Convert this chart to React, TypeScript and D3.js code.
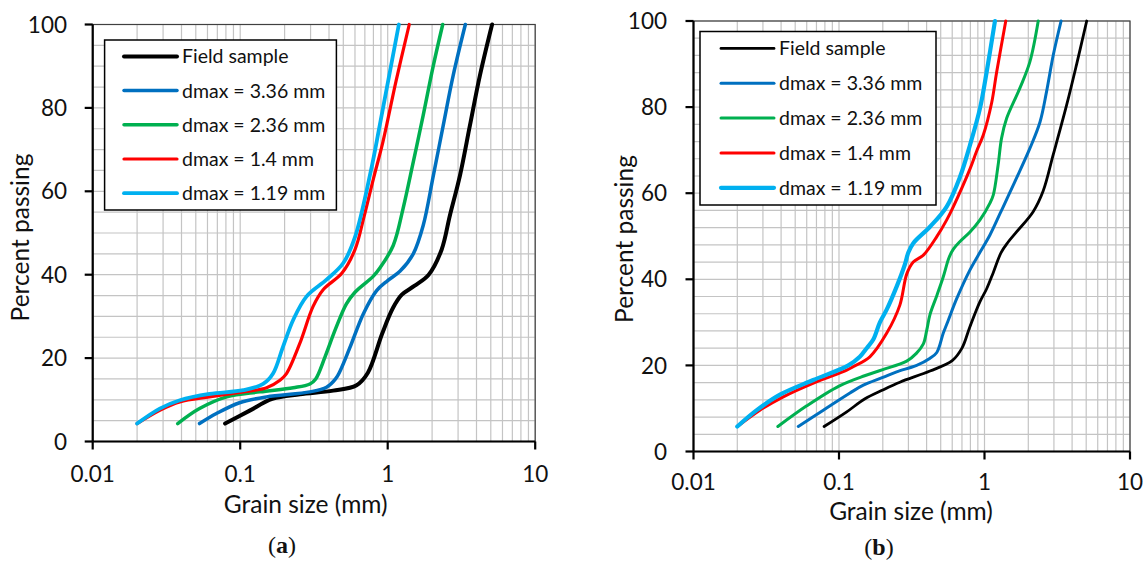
import React from 'react';
import * as d3 from 'd3';

type Pt = [number, number];

// grain size (mm), percent passing -- panel (a)
const fieldA: Pt[] = [[0.079, 4.3], [0.116, 7.4], [0.165, 10.2], [0.254, 11.3], [0.427, 12.2], [0.615, 13.5], [0.734, 16.5], [0.918, 25.9], [1.085, 32], [1.247, 35.2], [1.515, 37.3], [1.896, 40], [2.32, 46], [2.64, 54.2], [3.09, 63.8], [3.61, 75.8], [4.22, 87.8], [5.1, 100]];
const d336A: Pt[] = [[0.053, 4.3], [0.069, 6.7], [0.099, 9.3], [0.151, 10.7], [0.297, 11.9], [0.385, 13], [0.443, 15], [0.474, 16.8], [0.554, 22.5], [0.683, 30.6], [0.841, 36.2], [1.0, 38.6], [1.21, 40.8], [1.49, 45], [1.74, 51.8], [2.04, 63.8], [2.38, 75.8], [2.78, 87.8], [3.36, 100]];
const d236A: Pt[] = [[0.0377, 4.3], [0.053, 7.9], [0.081, 10.7], [0.136, 11.9], [0.229, 12.9], [0.297, 13.8], [0.325, 15], [0.376, 20.3], [0.443, 27], [0.525, 33], [0.6, 35.8], [0.797, 39.6], [0.885, 41.6], [1.09, 47], [1.27, 55.8], [1.49, 67], [1.74, 78.2], [2.04, 90.2], [2.36, 100]];
const d140A: Pt[] = [[0.02, 4.3], [0.0285, 7.5], [0.039, 9.5], [0.062, 10.7], [0.105, 11.9], [0.151, 12.9], [0.186, 14.7], [0.206, 16.3], [0.254, 23.6], [0.312, 32.4], [0.365, 36.4], [0.49, 40.4], [0.6, 46], [0.69, 53.8], [0.8, 63], [0.93, 72], [1.14, 86.5], [1.4, 100]];
const d119A: Pt[] = [[0.02, 4.3], [0.0285, 7.9], [0.039, 9.9], [0.062, 11.4], [0.105, 12.3], [0.143, 13.8], [0.167, 16.3], [0.195, 22.7], [0.229, 29.2], [0.282, 34.8], [0.385, 38.8], [0.5, 42.8], [0.6, 49], [0.77, 65], [0.885, 76], [1.19, 100]];

// panel (b)
const fieldB: Pt[] = [[0.079, 5.8], [0.113, 9.2], [0.15, 12.2], [0.2, 14.3], [0.262, 16.1], [0.422, 18.7], [0.6, 21.1], [0.7, 24], [0.794, 29], [0.931, 34.8], [1.035, 37.8], [1.15, 41.6], [1.3, 46.2], [1.45, 48.6], [1.66, 51], [2.16, 55.7], [2.53, 60.5], [2.97, 69], [3.67, 80.5], [4.3, 90], [5.04, 100]];
const d336B: Pt[] = [[0.0525, 5.8], [0.078, 9.6], [0.119, 13.6], [0.147, 15.4], [0.2, 17.2], [0.249, 18.5], [0.342, 20], [0.42, 21.6], [0.47, 23], [0.521, 27.5], [0.564, 30.5], [0.644, 35.5], [0.795, 42.2], [0.906, 45.6], [1.09, 50.3], [1.28, 55.3], [1.5, 60.3], [2.05, 70.4], [2.41, 76.6], [2.67, 83.6], [2.97, 92.1], [3.36, 100]];
const d236B: Pt[] = [[0.038, 5.8], [0.06, 10.6], [0.1, 15.2], [0.15, 17.6], [0.2, 19], [0.292, 21], [0.34, 22.8], [0.38, 25], [0.401, 28.2], [0.422, 31.8], [0.47, 36.2], [0.521, 40.6], [0.57, 45], [0.611, 47], [0.679, 48.8], [0.795, 51], [0.931, 53.8], [1.09, 57.7], [1.15, 59.6], [1.24, 66.5], [1.31, 72.8], [1.42, 77.4], [1.75, 84.4], [2.05, 90.5], [2.34, 100]];
const d140B: Pt[] = [[0.02, 5.8], [0.0286, 9.6], [0.0414, 12.7], [0.068, 16], [0.113, 18.9], [0.125, 19.7], [0.163, 22], [0.213, 27.5], [0.262, 34], [0.292, 41.2], [0.324, 44], [0.38, 45.6], [0.47, 49.9], [0.55, 53.8], [0.611, 56.9], [0.794, 65.6], [0.884, 69.8], [0.981, 73.5], [1.12, 81], [1.21, 88], [1.4, 100]];
const d119B: Pt[] = [[0.02, 5.8], [0.0272, 9.6], [0.0393, 13.2], [0.0666, 16.6], [0.116, 20], [0.139, 22], [0.155, 24], [0.172, 26], [0.191, 30], [0.213, 33], [0.249, 38.3], [0.284, 43.5], [0.3, 46.3], [0.324, 48.4], [0.422, 52.2], [0.55, 56.9], [0.679, 63.8], [0.795, 71.2], [0.931, 79.7], [1.035, 88.2], [1.18, 100]];

const seriesNames = ['Field sample', 'dmax = 3.36 mm', 'dmax = 2.36 mm', 'dmax = 1.4 mm', 'dmax = 1.19 mm'];
const seriesColors = ['#000000', '#0070C0', '#00B050', '#FF0000', '#00B0F0'];
const xTicks = [0.01, 0.1, 1, 10];
const xTickLabels = ['0.01', '0.1', '1', '10'];
const yTicks = [0, 20, 40, 60, 80, 100];

const FONT = 'Lato, "Open Sans", sans-serif';

const Panel = (props: any) => {
  const { data, widths, left, right, top, bottom, minorStep, legend, tag, tagX, tagY,
    yLabelX, xLabelY, titleX, titleY, yTitleX, yTitleY } = props;

  const x = d3.scaleLog().domain([0.01, 10]).range([left, right]);
  const y = d3.scaleLinear().domain([0, 100]).range([bottom, top]);
  const line = d3.line<Pt>()
    .x(d => x(d[0]))
    .y(d => y(d[1]))
    .curve(d3.curveCatmullRom.alpha(0.5));

  const vGrid = x.ticks();
  const hGrid = d3.range(0, 100.01, minorStep);

  return (
    <g>
      <g stroke="#c4c4c4" strokeWidth={1.2}>
        {vGrid.map((t, i) => <line key={'v' + i} x1={x(t)} x2={x(t)} y1={top} y2={bottom} />)}
        {hGrid.map((t, i) => <line key={'h' + i} x1={left} x2={right} y1={y(t)} y2={y(t)} />)}
      </g>
      <rect x={left} y={top} width={right - left} height={bottom - top} fill="none" stroke="#404040" strokeWidth={1.2} />
      <g stroke="#000" strokeWidth={2.2}>
        <line x1={left} x2={left} y1={top} y2={bottom} />
        <line x1={left} x2={right} y1={bottom} y2={bottom} />
        {yTicks.map((t, i) => <line key={'yt' + i} x1={left - 8} x2={left} y1={y(t)} y2={y(t)} />)}
        {xTicks.map((t, i) => <line key={'xt' + i} x1={x(t)} x2={x(t)} y1={bottom} y2={bottom + 8} />)}
      </g>
      <g fontFamily={FONT} fontSize={22.5} fill="#111">
        {yTicks.map((t, i) => (
          <text key={'yl' + i} x={yLabelX} y={y(t)} dy="0.36em" textAnchor="end">{t}</text>
        ))}
        {xTicks.map((t, i) => (
          <text key={'xl' + i} x={x(t)} y={xLabelY} textAnchor="middle">{xTickLabels[i]}</text>
        ))}
      </g>
      <text x={titleX} y={titleY} textAnchor="middle" fontFamily={FONT} fontSize={24.5} fill="#111">Grain size (mm)</text>
      <text transform={`translate(${yTitleX},${yTitleY}) rotate(-90)`} textAnchor="middle" fontFamily={FONT} fontSize={24.5} fill="#111">Percent passing</text>

      <g fill="none" strokeLinecap="round" strokeLinejoin="round">
        {data.map((s: Pt[], i: number) => (
          <path key={'s' + i} d={line(s) || ''} stroke={seriesColors[i]} strokeWidth={widths[i]} />
        ))}
      </g>

      <rect x={legend.x} y={legend.y} width={legend.w} height={legend.h} fill="#fff" stroke="#000" strokeWidth={1.5} />
      {seriesNames.map((n, i) => {
        const ry = legend.row0 + i * legend.step;
        return (
          <g key={'lg' + i}>
            <line x1={legend.lx1} x2={legend.lx2} y1={ry} y2={ry} stroke={seriesColors[i]} strokeWidth={widths[i]} strokeLinecap="round" />
            <text x={legend.tx} y={ry} dy="0.36em" fontFamily={FONT} fontSize={19.5} fill="#111">{n}</text>
          </g>
        );
      })}

      <text x={tagX} y={tagY} textAnchor="middle" fontFamily='"Liberation Serif", "DejaVu Serif", serif' fontSize={24} fill="#111">
        <tspan>(</tspan><tspan fontWeight="bold">{tag}</tspan><tspan>)</tspan>
      </text>
    </g>
  );
};

const App = () => {
  return (
    <svg width={1148} height={562} style={{ position: 'absolute', left: 0, top: 0, background: '#fff' }}>
      <Panel
        data={[fieldA, d336A, d236A, d140A, d119A]}
        widths={[4, 3.5, 3.5, 3.2, 3.8]}
        left={92.7} right={535.2} top={24.5} bottom={441.5}
        minorStep={5}
        legend={{ x: 104.6, y: 40, w: 231.8, h: 170, row0: 56.4, step: 34.2, lx1: 124, lx2: 177, tx: 182 }}
        yLabelX={67} xLabelY={482}
        titleX={305.7} titleY={513}
        yTitleX={29} yTitleY={237.5}
        tag="a" tagX={282} tagY={553}
      />
      <Panel
        data={[fieldB, d336B, d236B, d140B, d119B]}
        widths={[2.8, 3, 3, 3, 4.2]}
        left={693.5} right={1130} top={21} bottom={451.5}
        minorStep={4}
        legend={{ x: 700, y: 31.5, w: 236, h: 173.5, row0: 48.4, step: 34.85, lx1: 721, lx2: 774, tx: 779 }}
        yLabelX={667} xLabelY={490}
        titleX={911} titleY={520}
        yTitleX={633} yTitleY={239}
        tag="b" tagX={879} tagY={555}
      />
    </svg>
  );
};

export default App;
